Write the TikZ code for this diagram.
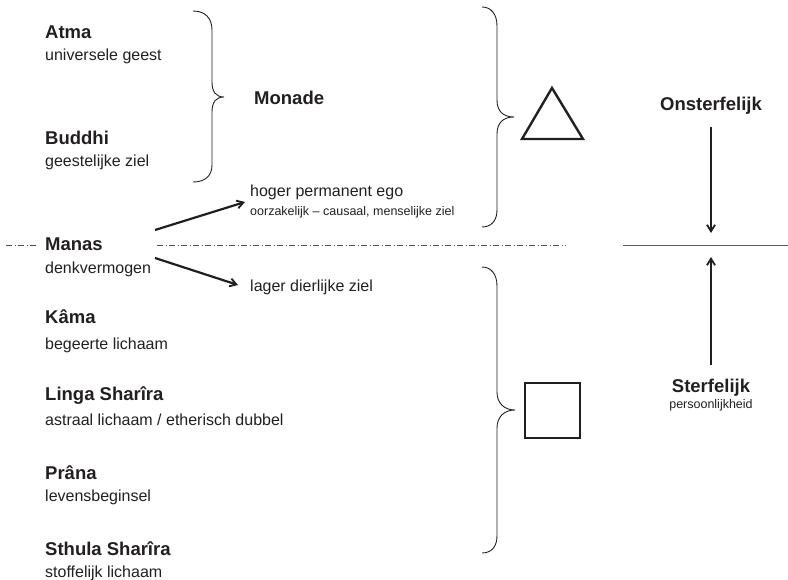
\documentclass[tikz,border=0pt]{standalone}
\usepackage{fontspec}
\setmainfont{Liberation Sans}
\usetikzlibrary{arrows.meta}
\definecolor{ink}{HTML}{231F20}
\tikzset{
  title/.style={anchor=base west, inner sep=0pt, font=\fontsize{18.5}{22}\selectfont\bfseries, text=ink},
  sub/.style={anchor=base west, inner sep=0pt, font=\fontsize{16}{19}\selectfont, text=ink},
  mid/.style={anchor=base west, inner sep=0pt, font=\fontsize{16}{19}\selectfont, text=ink},
  small/.style={anchor=base west, inner sep=0pt, font=\fontsize{12.5}{15}\selectfont, text=ink},
  bracepath/.style={draw=ink, line width=0.9pt},
  shapeline/.style={draw=ink, line width=2.4pt, line join=miter},
  conn/.style={draw=ink, line width=2.2pt, -{Straight Barb[length=6.5pt,width=8pt,line width=1.8pt]}},
  divider/.style={draw=ink!75, line width=0.8pt},
  dashdot/.style={draw=ink!80, line width=0.8pt, dash pattern=on 6pt off 2.5pt on 1pt off 2.5pt}
}
\begin{document}
\begin{tikzpicture}[x=1pt,y=-1pt]
\useasboundingbox (0,0) rectangle (788,580);
% left column
\node[title] (atma) at (45,39) {Atma};
\node[sub] (atmas) at (45,61) {universele geest};
\node[title] (buddhi) at (45,145) {Buddhi};
\node[sub] (buddhis) at (45,167) {geestelijke ziel};
\node[title] (manas) at (45,251) {Manas};
\node[sub] (manass) at (45,274) {denkvermogen};
\node[title] (kama) at (45,324) {Kâma};
\node[sub] (kamas) at (45,349) {begeerte lichaam};
\node[title] (linga) at (45,400) {Linga Sharîra};
\node[sub] (lingas) at (45,425) {astraal lichaam / etherisch dubbel};
\node[title] (prana) at (45,479) {Prâna};
\node[sub] (pranas) at (45,501) {levensbeginsel};
\node[title] (sthula) at (45,555) {Sthula Sharîra};
\node[sub] (sthulas) at (45,577) {stoffelijk lichaam};
% monade
\node[title] (monade) at (254,105) {Monade};
% braces
\draw[bracepath] (193,11) .. controls (205,11) and (212,18) .. (212,30) -- (212,82)
  .. controls (212,92) and (216,97) .. (224,97)
  .. controls (216,97) and (212,102) .. (212,112) -- (212,165)
  .. controls (212,176) and (205,182) .. (193,182);
\draw[bracepath] (482,7) .. controls (491,7) and (497,14) .. (497,26) -- (497,100)
  .. controls (497,111) and (503,117) .. (514,117)
  .. controls (503,117) and (497,123) .. (497,134) -- (497,210)
  .. controls (497,221) and (491,227) .. (482,227);
\draw[bracepath] (482,267) .. controls (491,267) and (497,274) .. (497,286) -- (497,392)
  .. controls (497,403) and (504,410) .. (515,410)
  .. controls (504,410) and (497,417) .. (497,428) -- (497,536)
  .. controls (497,547) and (491,553) .. (482,553);
% triangle and square
\draw[shapeline] (552,88) -- (583,139) -- (522,139) -- cycle;
\draw[shapeline] (525,383) rectangle (580,438);
% manas branches
\node[mid] (hoger) at (250,197) {hoger permanent ego};
\node[small] (oorz) at (250,216) {oorzakelijk – causaal, menselijke ziel};
\node[mid] (lager) at (250,292) {lager dierlijke ziel};
\coordinate (mu) at (155,230);
\coordinate (ml) at (155,258);
\draw[conn] (mu) -- (245,202);
\draw[conn] (ml) -- (238,285);
% dividers
\draw[dashdot] (6,245) -- (36,245);
\draw[dashdot] (157,245) -- (566,245);
\draw[divider] (623,245) -- (788,245);
% right side
\node[title, anchor=base] (onst) at (711,111) {Onsterfelijk};
\node[title, anchor=base] (sterf) at (711,392) {Sterfelijk};
\node[small, anchor=base] (pers) at (711,408) {persoonlijkheid};
\coordinate (dtop) at (711,127);
\coordinate (dbot) at (711,233);
\coordinate (ubot) at (711,365);
\coordinate (utop) at (711,257);
\draw[conn] (dtop) -- (dbot);
\draw[conn] (ubot) -- (utop);
\end{tikzpicture}
\end{document}
